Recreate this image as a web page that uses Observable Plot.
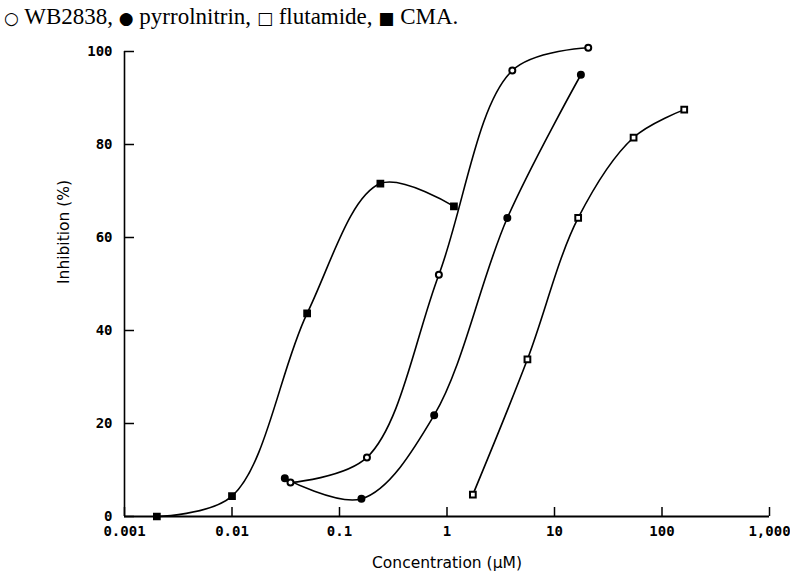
<!DOCTYPE html>
<html><head><meta charset="utf-8">
<script src="https://cdn.jsdelivr.net/npm/d3@7"></script>
<script src="https://cdn.jsdelivr.net/npm/@observablehq/plot@0.6"></script>
<style>
body{margin:0;background:#fff;}
#legend{font-family:"Liberation Serif","Times New Roman",serif;font-size:23px;height:30px;box-sizing:border-box;padding:3px 0 0 4px;line-height:27px;white-space:nowrap;color:#000;}
#legend .s{font-family:"DejaVu Sans",sans-serif;font-size:17px;}
</style>
</head><body>
<div id="legend"><span class="s">○</span> WB2838, <span class="s">●</span> pyrrolnitrin, <span class="s">□</span> flutamide, <span class="s">■</span> CMA.</div>
<div id="chart"></div>
<script>
// Data (concentration in µM, inhibition in %)
const wbConc = [0.035, 0.18, 0.84, 4.05, 20.6];
const wbInh = [7.3, 12.7, 52.0, 95.9, 100.8];
const pyrConc = [0.031, 0.16, 0.76, 3.64, 17.6];
const pyrInh = [8.2, 3.8, 21.8, 64.2, 95.0];
const fluConc = [1.74, 5.6, 16.6, 54.4, 161];
const fluInh = [4.7, 33.8, 64.2, 81.5, 87.5];
const cmaConc = [0.002, 0.01, 0.05, 0.24, 1.16];
const cmaInh = [0, 4.4, 43.7, 71.6, 66.7];

const xTicks = [0.001, 0.01, 0.1, 1, 10, 100, 1000];
const xTickLabels = ["0.001", "0.01", "0.1", "1", "10", "100", "1,000"];
const yTicks = [0, 20, 40, 60, 80, 100];

const series = [
  {name: "WB2838", conc: wbConc, inh: wbInh, symbol: "circle", fill: "white"},
  {name: "pyrrolnitrin", conc: pyrConc, inh: pyrInh, symbol: "circle", fill: "black"},
  {name: "flutamide", conc: fluConc, inh: fluInh, symbol: "square", fill: "white"},
  {name: "CMA", conc: cmaConc, inh: cmaInh, symbol: "square", fill: "black"}
];
const rows = series.flatMap(s => s.conc.map((c, i) => ({series: s.name, conc: c, inh: s.inh[i], symbol: s.symbol, fill: s.fill})));

const tickFont = {fontFamily: "DejaVu Sans Mono", fontSize: 14, fontWeight: "bold"};

const plot = Plot.plot({
  width: 790,
  height: 546,
  marginLeft: 124,
  marginRight: 21,
  marginTop: 21,
  marginBottom: 60,
  style: {background: "white", color: "black"},
  x: {type: "log", domain: [0.001, 1000]},
  y: {domain: [0, 100]},
  marks: [
    Plot.ruleX([0.001], {y1: 0, y2: 100, stroke: "black", strokeWidth: 1.6}),
    Plot.ruleY([0], {stroke: "black", strokeWidth: 2.2}),
    Plot.axisY({ticks: yTicks, tickSize: -10, tickPadding: 22, label: null, tickFormat: d => String(d), ...tickFont, strokeWidth: 1.5}),
    Plot.axisX({ticks: xTicks, tickSize: -9, tickPadding: 19, label: null, tickFormat: d => xTickLabels[xTicks.indexOf(d)], ...tickFont, strokeWidth: 1.5}),
    Plot.text(["Concentration (µM)"], {frameAnchor: "bottom", lineAnchor: "middle", dy: 47, fontFamily: "DejaVu Sans", fontSize: 15.5}),
    Plot.text(["Inhibition (%)"], {frameAnchor: "left", lineAnchor: "middle", rotate: -90, dx: -60, fontFamily: "DejaVu Sans", fontSize: 15.5}),
    Plot.line(rows, {x: "conc", y: "inh", z: "series", curve: "catmull-rom", stroke: "black", strokeWidth: 1.6}),
    Plot.dot(rows, {x: "conc", y: "inh", symbol: "symbol", fill: "fill", stroke: "black", strokeWidth: 2, r: d => d.symbol === "square" ? 7 : 6})
  ]
});
document.getElementById("chart").appendChild(plot);
</script>
</body></html>
